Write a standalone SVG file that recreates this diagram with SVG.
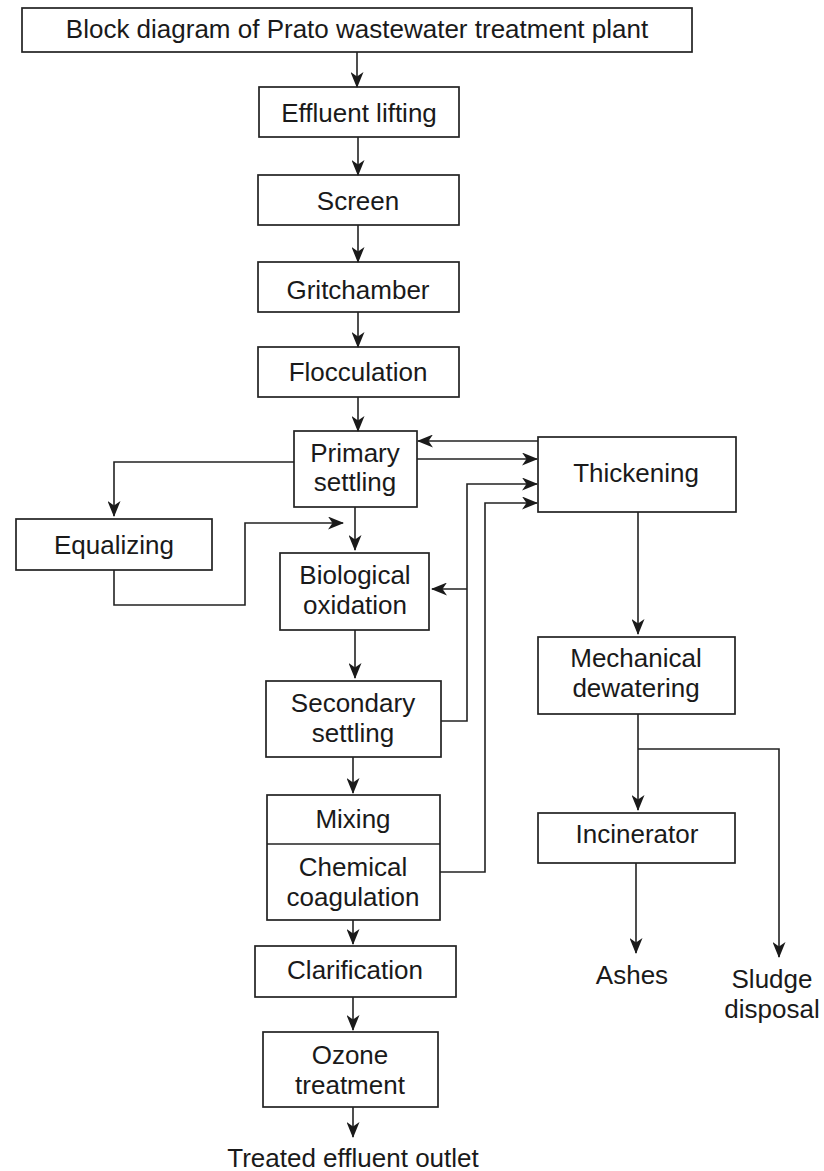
<svg xmlns="http://www.w3.org/2000/svg" width="824" height="1171" viewBox="0 0 824 1171">
<style>
rect{fill:#fff;stroke:#222;stroke-width:1.7}
text{font-family:"Liberation Sans",Arial,sans-serif;font-size:26px;fill:#1a1a1a;text-anchor:middle}
.c path{fill:none;stroke:#222;stroke-width:1.6}
.div{stroke:#222;stroke-width:1.7}
</style>
<defs>
<marker id="ah" markerUnits="userSpaceOnUse" viewBox="0 0 16 13" refX="15" refY="6.5" markerWidth="16" markerHeight="13" orient="auto">
<path d="M0,0 L16,6.5 L0,13 L4.5,6.5 Z" fill="#1a1a1a"/>
</marker>
</defs>
<rect x="0" y="0" width="824" height="1171" style="fill:#fff;stroke:none"/>
<g id="title"><rect x="22" y="8" width="670" height="44"/><text x="357" y="38">Block diagram of Prato wastewater treatment plant</text></g>
<g id="effluent"><rect x="259" y="87" width="200" height="50"/><text x="359" y="122">Effluent lifting</text></g>
<g id="screen"><rect x="258" y="175" width="201" height="50"/><text x="358" y="210">Screen</text></g>
<g id="grit"><rect x="258" y="262" width="201" height="50"/><text x="358" y="299">Gritchamber</text></g>
<g id="floc"><rect x="258" y="347" width="201" height="50"/><text x="358" y="381">Flocculation</text></g>
<g id="primary"><rect x="294" y="431" width="123" height="76"/><text x="355" y="461.5">Primary<tspan x="355" y="491">settling</tspan></text></g>
<g id="equalizing"><rect x="16" y="519" width="196" height="51"/><text x="114" y="554">Equalizing</text></g>
<g id="bio"><rect x="280" y="553" width="149" height="77"/><text x="355" y="584">Biological<tspan x="355" y="613.5">oxidation</tspan></text></g>
<g id="secondary"><rect x="266" y="681" width="175" height="76"/><text x="353" y="712">Secondary<tspan x="353" y="741.5">settling</tspan></text></g>
<g id="mixing"><rect x="267" y="795" width="173" height="125"/><line class="div" x1="267" y1="844" x2="440" y2="844"/><text x="353" y="828">Mixing</text><text x="353" y="876">Chemical<tspan x="353" y="905.5">coagulation</tspan></text></g>
<g id="clarification"><rect x="255" y="946" width="201" height="51"/><text x="355" y="979">Clarification</text></g>
<g id="ozone"><rect x="263" y="1032" width="175" height="75"/><text x="350" y="1064">Ozone<tspan x="350" y="1093.5">treatment</tspan></text></g>
<g id="outlet"><text x="353" y="1167">Treated effluent outlet</text></g>
<g id="thickening"><rect x="538" y="437" width="198" height="75"/><text x="636" y="482">Thickening</text></g>
<g id="mech"><rect x="538" y="637" width="197" height="77"/><text x="636" y="667">Mechanical<tspan x="636" y="696.5">dewatering</tspan></text></g>
<g id="incinerator"><rect x="538" y="813" width="197" height="50"/><text x="637" y="843">Incinerator</text></g>
<g id="ashes"><text x="632" y="984">Ashes</text></g>
<g id="sludge"><text x="772" y="988">Sludge<tspan x="772" y="1017.5">disposal</tspan></text></g>
<g id="connectors" class="c">
<path d="M357,52 V87" marker-end="url(#ah)"/>
<path d="M358,137 V175" marker-end="url(#ah)"/>
<path d="M358,225 V262" marker-end="url(#ah)"/>
<path d="M358,312 V347" marker-end="url(#ah)"/>
<path d="M358,397 V431" marker-end="url(#ah)"/>
<path d="M355,507 V550" marker-end="url(#ah)"/>
<path d="M355,630 V678" marker-end="url(#ah)"/>
<path d="M353,757 V793" marker-end="url(#ah)"/>
<path d="M353,920 V944" marker-end="url(#ah)"/>
<path d="M353,997 V1030" marker-end="url(#ah)"/>
<path d="M353,1107 V1137" marker-end="url(#ah)"/>
<path d="M538,441 H418" marker-end="url(#ah)"/>
<path d="M417,459 H537" marker-end="url(#ah)"/>
<path d="M441,721 H467 V484 H537" marker-end="url(#ah)"/>
<path d="M467,589 H432" marker-end="url(#ah)"/>
<path d="M440,872 H485 V503 H537" marker-end="url(#ah)"/>
<path d="M294,462 H114 V516" marker-end="url(#ah)"/>
<path d="M114,570 V605 H245 V523 H343" marker-end="url(#ah)"/>
<path d="M638,512 V634" marker-end="url(#ah)"/>
<path d="M638,714 V810" marker-end="url(#ah)"/>
<path d="M638,749 H779 V957" marker-end="url(#ah)"/>
<path d="M636,863 V953" marker-end="url(#ah)"/>
</g>
</svg>
